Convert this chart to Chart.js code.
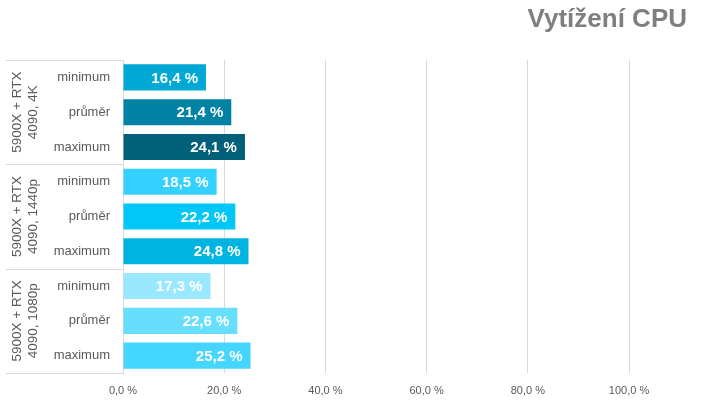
<!DOCTYPE html>
<html>
<head>
<meta charset="utf-8">
<script src="https://cdn.jsdelivr.net/npm/chart.js@4"></script>
<style>
  html, body { margin: 0; padding: 0; background: #fff; }
  #wrap { width: 720px; height: 405px; }
</style>
</head>
<body>
<div id="wrap"><canvas id="cpuChart"></canvas></div>
<script>
const title = 'Vytížení CPU';
const groups = [
    ['5900X + RTX', '4090, 4K'],
    ['5900X + RTX', '4090, 1440p'],
    ['5900X + RTX', '4090, 1080p']
];
const rowLabels = ['minimum', 'průměr', 'maximum'];
const cpuValues = [16.4, 21.4, 24.1, 18.5, 22.2, 24.8, 17.3, 22.6, 25.2];
const barColors = [
    '#00A9D5', '#0082A4', '#005F79',
    '#33D1FF', '#00C7F7', '#00B4E1',
    '#99E8FF', '#66DEFC', '#45D6FF'
];
const xTicks = [0, 20, 40, 60, 80, 100];

const labels = [];
groups.forEach(() => rowLabels.forEach(r => labels.push(r)));

const fmt = v => v.toFixed(1).replace('.', ',') + ' %';
const FONT = "'Liberation Sans', Arial, sans-serif";

// group labels, separators, value labels and title
const extras = {
    id: 'extras',
    afterDatasetsDraw(chart) {
        const { ctx, chartArea, scales } = chart;
        const y = scales.y;
        const step = y.getPixelForValue(1) - y.getPixelForValue(0);

        ctx.save();
        // separators
        ctx.strokeStyle = '#D9D9D9';
        ctx.lineWidth = 1;
        for (let g = 0; g <= groups.length; g++) {
            const py = Math.round(y.getPixelForValue(g * 3) - step / 2) + 0.5;
            ctx.beginPath();
            ctx.moveTo(6, py);
            ctx.lineTo(chartArea.left, py);
            ctx.stroke();
        }
        // rotated group names
        ctx.fillStyle = '#595959';
        ctx.font = '13.5px ' + FONT;
        ctx.textAlign = 'center';
        ctx.textBaseline = 'middle';
        groups.forEach((lines, g) => {
            const cy = y.getPixelForValue(g * 3 + 1);
            ctx.save();
            ctx.translate(25, cy);
            ctx.rotate(-Math.PI / 2);
            ctx.fillText(lines[0], 0, -8);
            ctx.fillText(lines[1], 0, 8);
            ctx.restore();
        });

        // value labels
        const meta = chart.getDatasetMeta(0);
        ctx.fillStyle = '#fff';
        ctx.font = 'bold 15px ' + FONT;
        ctx.textAlign = 'right';
        meta.data.forEach((bar, i) => {
            ctx.fillText(fmt(cpuValues[i]), bar.x - 8, bar.y + 1);
        });

        // title
        ctx.fillStyle = '#7F7F7F';
        ctx.font = 'bold 26px ' + FONT;
        ctx.textAlign = 'right';
        ctx.fillText(title, 687, 20);
        ctx.restore();
    }
};

new Chart(document.getElementById('cpuChart'), {
    type: 'bar',
    data: {
        labels,
        datasets: [{
            data: cpuValues,
            backgroundColor: barColors,
            categoryPercentage: 1,
            barPercentage: 0.75
        }]
    },
    options: {
        indexAxis: 'y',
        responsive: true,
        maintainAspectRatio: false,
        animation: false,
        layout: { padding: { top: 60, right: 91, bottom: 0, left: 0 } },
        plugins: {
            legend: { display: false },
            tooltip: { enabled: false },
            title: { display: false }
        },
        scales: {
            x: {
                min: 0,
                max: 100,
                afterBuildTicks(scale) {
                    scale.ticks = xTicks.map(v => ({ value: v }));
                },
                afterFit(scale) { scale.height = 32; },
                grid: { color: '#D9D9D9', drawTicks: false },
                border: { display: false },
                ticks: {
                    color: '#595959',
                    font: { family: FONT, size: 11 },
                    padding: 11,
                    callback: v => fmt(v)
                }
            },
            y: {
                afterFit(scale) { scale.width = 123; },
                grid: { display: false },
                border: { color: '#D9D9D9' },
                ticks: {
                    color: '#595959',
                    font: { family: FONT, size: 13 },
                    padding: 5
                }
            }
        }
    },
    plugins: [extras]
});
</script>
</body>
</html>
